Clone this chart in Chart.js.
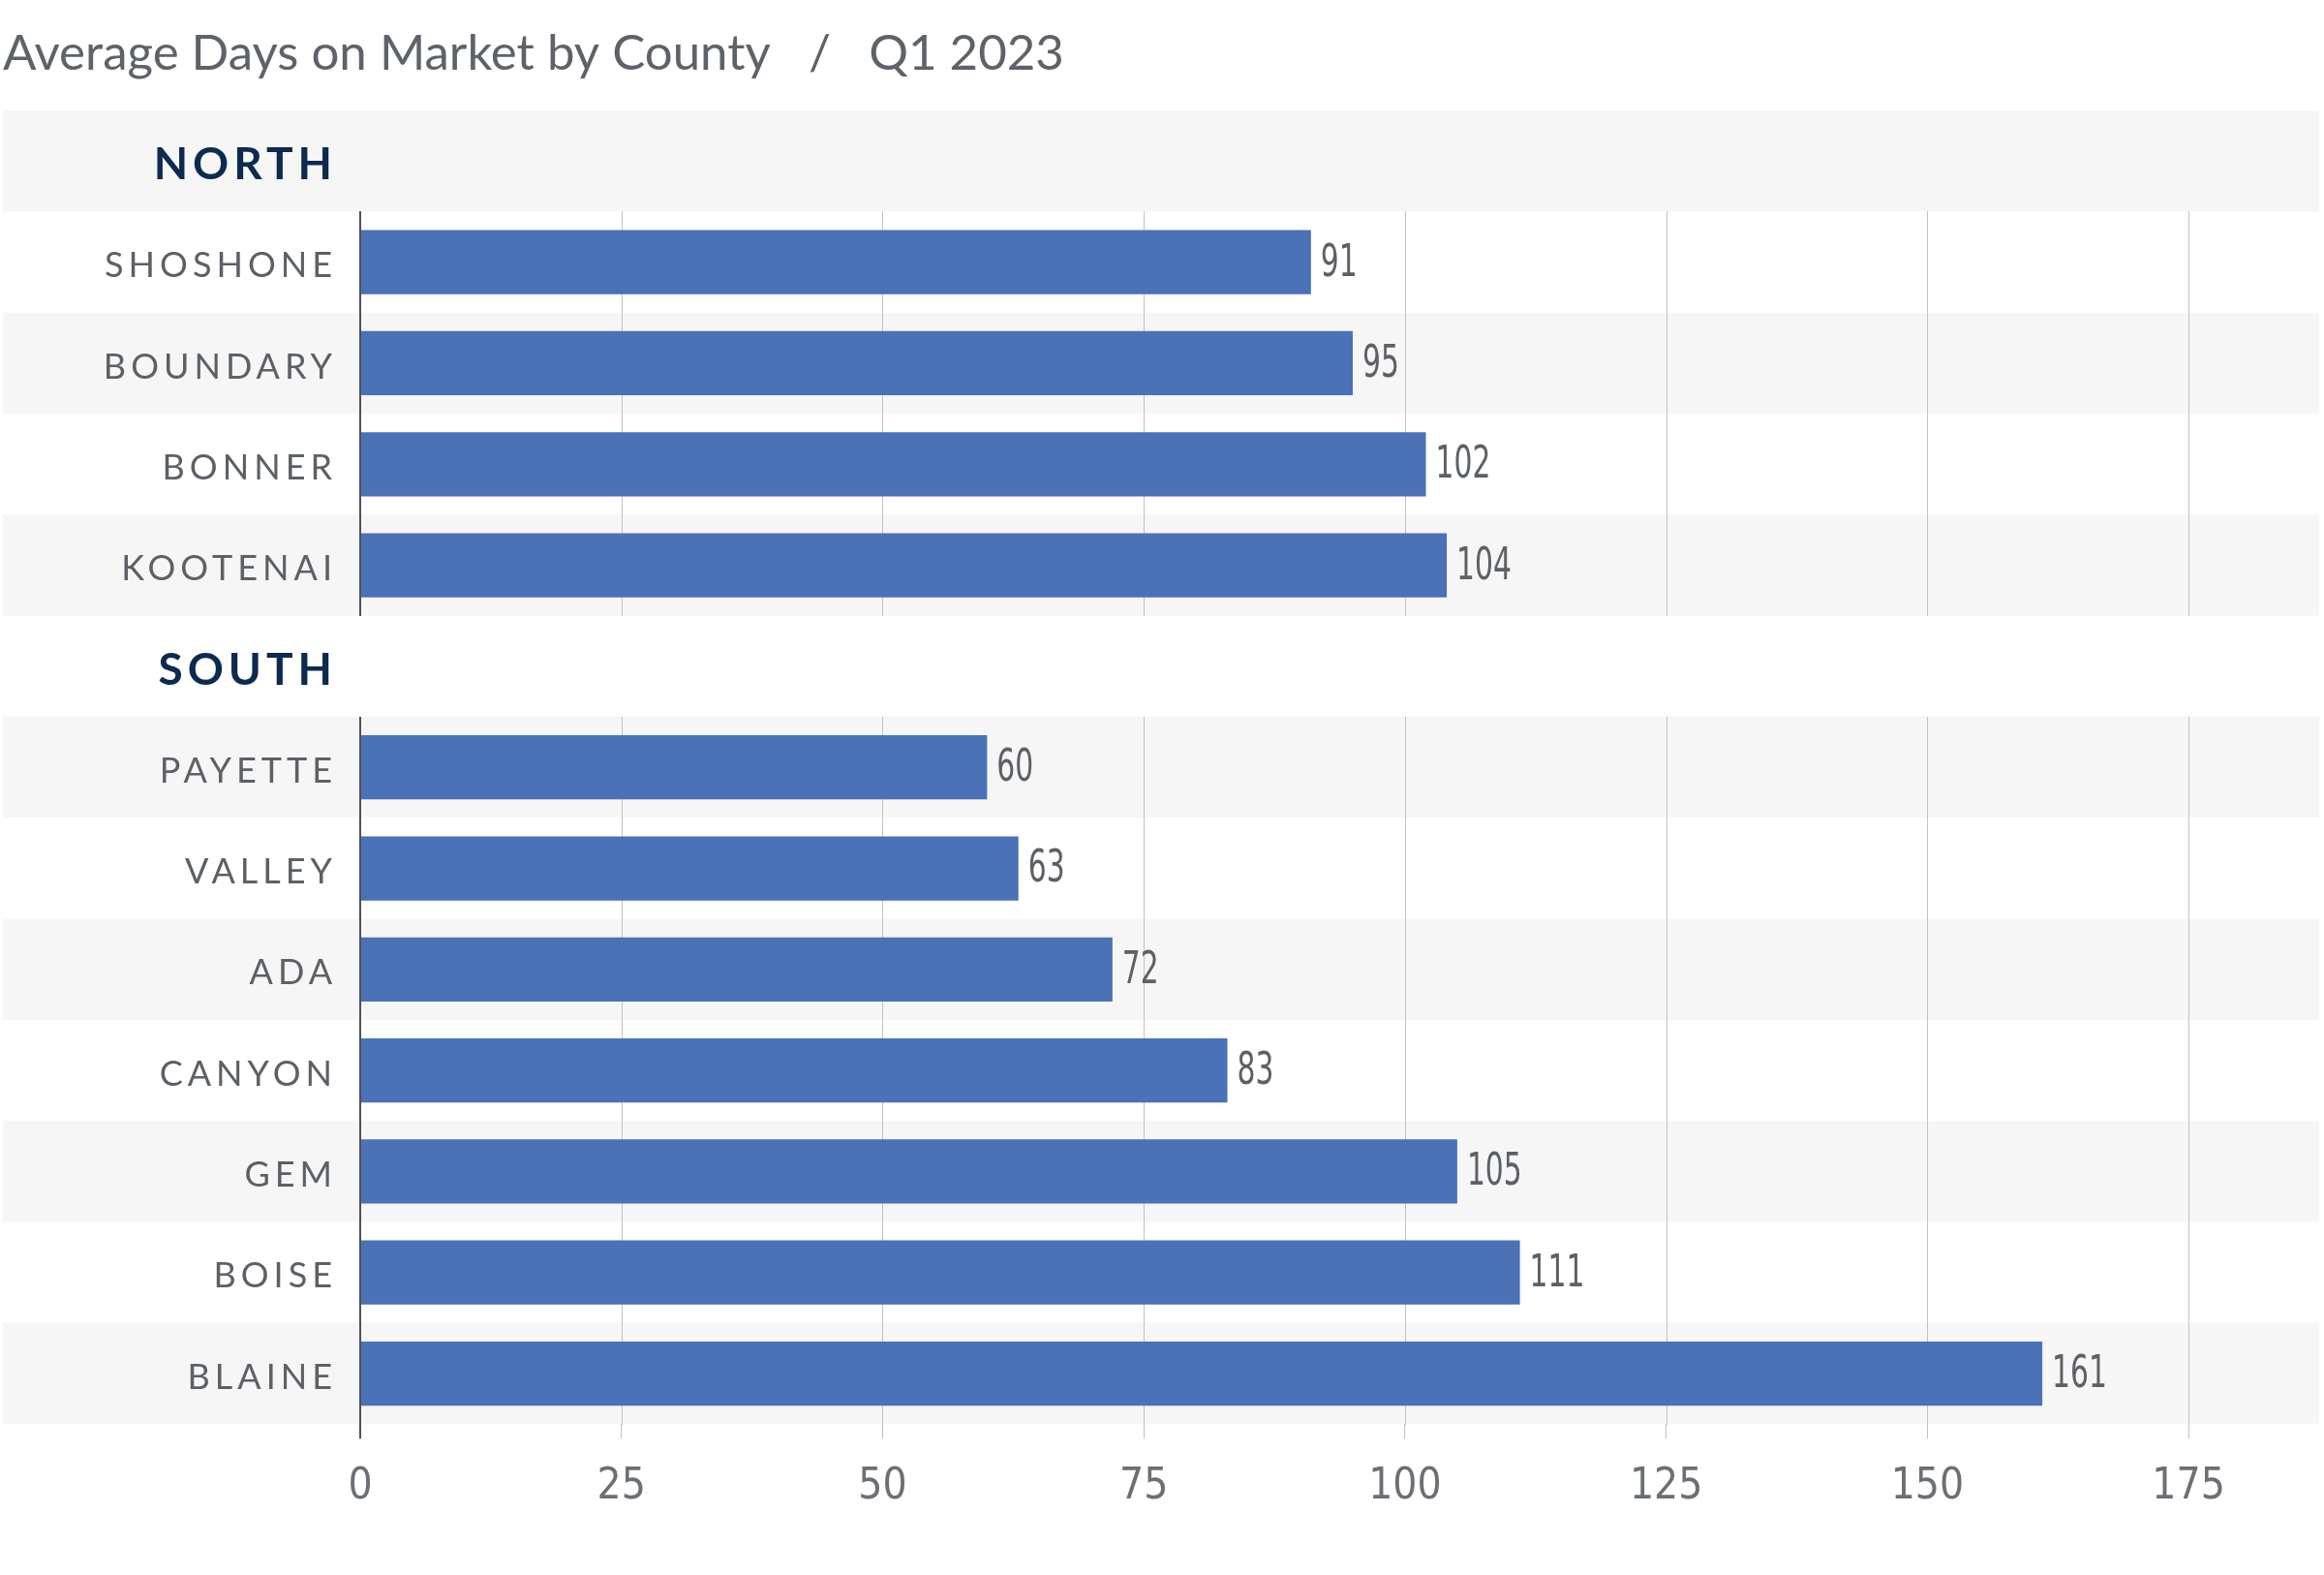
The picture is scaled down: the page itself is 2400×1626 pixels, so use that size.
<!DOCTYPE html>
<html>
<head>
<meta charset="utf-8">
<title>Average Days on Market by County</title>
<script src="https://cdn.jsdelivr.net/npm/chart.js@4.4.1/dist/chart.umd.min.js"></script>
<style>
  html, body { margin: 0; padding: 0; background: #fff; }
</style>
</head>
<body>
<canvas id="myChart" width="2400" height="1626"></canvas>
<script>
'use strict';

// rows top to bottom, region headers are rows without a value
let counties = ['NORTH', 'SHOSHONE', 'BOUNDARY', 'BONNER', 'KOOTENAI', 'SOUTH', 'PAYETTE', 'VALLEY', 'ADA', 'CANYON', 'GEM', 'BOISE', 'BLAINE'];
let daysOnMarket = [null, 91, 95, 102, 104, null, 60, 63, 72, 83, 105, 111, 161];
let headerRows = ['NORTH', 'SOUTH'];
let xTicks = [0, 25, 50, 75, 100, 125, 150, 175];
let xMax = 187.5;

let chartTitle = 'Average Days on Market by County   /   Q1 2023';

let barColor = '#4b71b6';
let bandColor = '#f6f6f6';
let gridColor = '#c2c2c2';
let axisColor = '#4d5257';
let labelGray = '#5b6166';
let headerNavy = '#0d2a4f';
let narrowFont = '"Liberation Sans Narrow", "DejaVu Sans Condensed", "Liberation Sans", sans-serif';


function rowHeight(chart) {
  let yScale = chart.scales.y;
  return (yScale.bottom - yScale.top) / counties.length;
}

function isHeader(i) {
  return headerRows.includes(counties[i]);
}


// grey stripes on every other row, full width
let bandPlugin = {
  id: 'bands',
  beforeDraw(chart) {
    let ctx = chart.ctx;
    let yScale = chart.scales.y;
    let rowH = rowHeight(chart);
    ctx.save();
    ctx.fillStyle = bandColor;
    for (let i = 0; i < counties.length; i += 2) {
      let top = yScale.getPixelForValue(i) - rowH / 2;
      ctx.fillRect(3, top, 2392, rowH);
    }
    ctx.restore();
  }
};

// grid lines + axis line, only on county rows (headers stay clear)
let rowGridPlugin = {
  id: 'rowGrid',
  beforeDatasetsDraw(chart) {
    let ctx = chart.ctx;
    let xScale = chart.scales.x;
    let yScale = chart.scales.y;
    let rowH = rowHeight(chart);
    ctx.save();
    for (let i = 0; i < counties.length; i++) {
      if (isHeader(i)) continue;
      let top = Math.floor(yScale.getPixelForValue(i) - rowH / 2);
      let bottom = Math.ceil(yScale.getPixelForValue(i) + rowH / 2);
      for (let t of xTicks) {
        let x = Math.round(xScale.getPixelForValue(t));
        ctx.beginPath();
        if (t === 0) {
          ctx.strokeStyle = axisColor;
          ctx.lineWidth = 2;
          ctx.moveTo(x, top);
          ctx.lineTo(x, bottom);
        } else {
          ctx.strokeStyle = gridColor;
          ctx.lineWidth = 1;
          ctx.moveTo(x + 0.5, top);
          ctx.lineTo(x + 0.5, bottom);
        }
        ctx.stroke();
      }
    }
    ctx.restore();
  }
};

// value next to each bar, then switch on letter spacing for the y labels (ticks z: 1, drawn after)
let valueLabelPlugin = {
  id: 'valueLabels',
  afterDatasetsDraw(chart) {
    let ctx = chart.ctx;
    let meta = chart.getDatasetMeta(0);
    ctx.save();
    ctx.fillStyle = labelGray;
    ctx.font = '46px ' + narrowFont;
    ctx.textBaseline = 'middle';
    ctx.textAlign = 'left';
    meta.data.forEach(function (bar, i) {
      let value = daysOnMarket[i];
      if (value === null) return;
      ctx.save();
      ctx.translate(bar.x + 10, bar.y + 2);
      ctx.scale(0.72, 1);
      ctx.fillText(String(value), 0, 0);
      ctx.restore();
    });
    ctx.restore();
    ctx.letterSpacing = '5px';
  },
  afterDraw(chart) {
    chart.ctx.letterSpacing = '0px';
  }
};


let chartObject = {
  type: 'bar',
  data: {
    labels: counties,
    datasets: [{
      label: 'Average Days on Market',
      data: daysOnMarket,
      backgroundColor: barColor,
      borderWidth: 0,
      categoryPercentage: 1,
      barPercentage: 0.635
    }]
  },
  options: {
    indexAxis: 'y',
    responsive: false,
    animation: false,
    layout: {
      padding: { left: 3, right: 5, top: 0, bottom: 40 }
    },
    plugins: {
      legend: { display: false },
      tooltip: { enabled: false },
      title: {
        display: true,
        text: chartTitle,
        align: 'start',
        color: '#5d6368',
        font: { family: 'Lato', size: 51, weight: '400', lineHeight: 1.2 },
        padding: { top: 25, bottom: 28 }
      }
    },
    scales: {
      x: {
        min: 0,
        max: xMax,
        afterBuildTicks: function (scale) {
          scale.ticks = xTicks.map(v => ({ value: v }));
        },
        grid: {
          display: true,
          drawOnChartArea: false,
          drawTicks: true,
          tickLength: 15,
          color: (c) => (c.tick && c.tick.value === 0) ? axisColor : gridColor,
          lineWidth: (c) => (c.tick && c.tick.value === 0) ? 2 : 1
        },
        border: { display: false },
        ticks: {
          padding: 24,
          color: '#6a7075',
          font: { family: narrowFont, size: 44 }
        }
      },
      y: {
        afterFit: function (scale) {
          scale.width = 369;
        },
        grid: { display: false },
        border: { display: false },
        ticks: {
          z: 1,
          autoSkip: false,
          padding: 16,
          labelOffset: 4,
          color: (c) => isHeader(c.index) ? headerNavy : labelGray,
          font: (c) => isHeader(c.index)
            ? { family: 'Lato', size: 46, weight: '700' }
            : { family: 'Lato', size: 36, weight: '400' }
        }
      }
    }
  },
  plugins: [bandPlugin, rowGridPlugin, valueLabelPlugin]
};

let ctx = document.getElementById('myChart').getContext('2d');
let myChart = new Chart(ctx, chartObject);
</script>
</body>
</html>
